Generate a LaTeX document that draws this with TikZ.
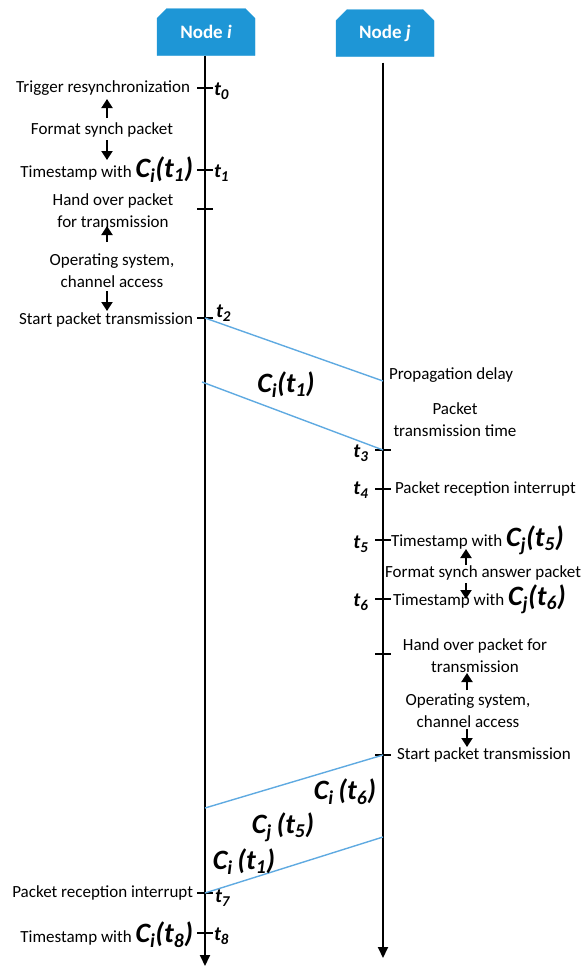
\documentclass[tikz,border=0pt]{standalone}
\usepackage{fontspec}
\setmainfont{Carlito}
\usetikzlibrary{shapes.misc,arrows.meta}
\definecolor{nodeblue}{RGB}{30,150,214}
\definecolor{msgblue}{RGB}{95,170,225}
\newcommand\lowsub[1]{\raisebox{-0.22em}{\fontsize{15}{15}\selectfont #1}}
\newcommand\tlab[1]{{\fontsize{20}{20}\selectfont\bfseries\itshape t\lowsub{#1}}}
\newcommand\clock[2]{{\fontsize{28}{28}\selectfont\bfseries\itshape C\textsubscript{#1}(t\textsubscript{#2})}}
\newcommand\clockm[2]{{\fontsize{28}{28}\selectfont\bfseries\itshape C\textsubscript{#1}\,(t\textsubscript{#2})}}
\begin{document}
\begin{tikzpicture}[x=1pt,y=-1pt,
  every node/.style={inner sep=0pt, outer sep=0pt, font=\fontsize{17}{22}\selectfont},
  hostbox/.style={chamfered rectangle, chamfered rectangle corners={north west,north east},
    chamfered rectangle xsep=8pt, fill=nodeblue, draw=nodeblue, minimum width=98pt,
    minimum height=47pt, text=white, font=\fontsize{19}{19}\selectfont\bfseries},
  timeline/.style={line width=1.9pt, -{Triangle[length=11pt,width=10pt]}},
  tick/.style={line width=1.9pt},
  msg/.style={msgblue, line width=1.4pt},
  stepar/.style={line width=2pt, -{Triangle[length=9pt,width=11pt]}},
  lbl/.style={align=center}]
\useasboundingbox (0,0) rectangle (584,967);

% hosts and their time axes
\node[hostbox] (ni) at (206,32) {Node \textit{i}};
\node[hostbox] (nj) at (385,33) {Node \textit{j}};
\coordinate (iend) at (205,966);
\coordinate (jend) at (383,958);
\draw[timeline] (ni.south -| iend) -- (iend);
\draw[timeline] ([yshift=-6pt]nj.south -| jend) -- (jend);

% event instants on node i
\foreach \n/\y in {e0/88, e1/170, eh/209, e2/318, e7/893, e8/933}
  \coordinate (\n) at (205,\y);
% event instants on node j
\foreach \n/\y in {e3/450, e4/489, e5/540, e6/599, ek/654, es/755}
  \coordinate (\n) at (383,\y);
\foreach \n in {e0,e1,eh,e2,e7,e8,e3,e4,e5,e6,ek,es}
  \draw[tick] ([xshift=-8pt]\n) -- ([xshift=8pt]\n);

% packets on the channel
\coordinate (r1) at (383,381);
\coordinate (s1) at (202,382);
\coordinate (r2) at (205,808);
\coordinate (s2) at (383,837);
\draw[msg] (e2) -- (r1);
\draw[msg] (s1) -- (e3);
\draw[msg] (es) -- (r2);
\draw[msg] (s2) -- (e7);

% node i, sending side
\node[anchor=east] (trig) at (190,88) {Trigger resynchronization};
\node[lbl] (fmt) at (102,130) {Format synch packet};
\node[anchor=east] (ts1) at (193,170) {Timestamp with \clock{i}{1}};
\node[lbl] (hand) at (113,211) {Hand over packet\\for transmission};
\node[lbl] (os) at (112,271) {Operating system,\\channel access};
\node[anchor=east] (start) at (193,320) {Start packet transmission};
\draw[stepar] (107,118) -- (107,99);
\draw[stepar] (107,140) -- (107,160);
\draw[stepar] (107,242) -- (107,226);
\draw[stepar] (107,291) -- (107,311);

\node[anchor=west] (lt0) at (214,91) {\tlab{0}};
\node[anchor=west] (lt1) at (214,173) {\tlab{1}};
\node[anchor=west] (lt2) at (216,313) {\tlab{2}};

% timestamp carried by the request
\node (c1) at (286,385) {\clock{i}{1}};

% node j, receiving and answering
\node[anchor=west] (prop) at (389,375) {Propagation delay};
\node[lbl] (ptt) at (455,420) {Packet\\transmission time};
\node[anchor=east] (lt3) at (368,453) {\tlab{3}};
\node[anchor=east] (lt4) at (368,490) {\tlab{4}};
\node[anchor=west] (pri2) at (395,489) {Packet reception interrupt};
\node[anchor=east] (lt5) at (368,544) {\tlab{5}};
\node[anchor=west] (ts5) at (391,540) {Timestamp with \clock{j}{5}};
\node[lbl] (fmt2) at (483,573) {Format synch answer packet};
\node[anchor=east] (lt6) at (368,602) {\tlab{6}};
\node[anchor=west] (ts6) at (393,599) {Timestamp with \clock{j}{6}};
\node[lbl] (hand2) at (475,656) {Hand over packet for\\transmission};
\node[lbl] (os2) at (468,711) {Operating system,\\channel access};
\node[anchor=west] (start2) at (397,755) {Start packet transmission};
\draw[stepar] (466,565) -- (466,549);
\draw[stepar] (466,583) -- (466,599);
\draw[stepar] (467,690) -- (467,673);
\draw[stepar] (467,729) -- (467,747);

% timestamps carried by the answer
\node (c6) at (345,792) {\clockm{i}{6}};
\node (c5) at (283,827) {\clockm{j}{5}};
\node (c1b) at (244,862) {\clockm{i}{1}};

% node i, receiving the answer
\node[anchor=east] (pri) at (193,893) {Packet reception interrupt};
\node[anchor=east] (ts8) at (193,935) {Timestamp with \clock{i}{8}};
\node[anchor=west] (lt7) at (215,898) {\tlab{7}};
\node[anchor=west] (lt8) at (214,936) {\tlab{8}};
\end{tikzpicture}
\end{document}
